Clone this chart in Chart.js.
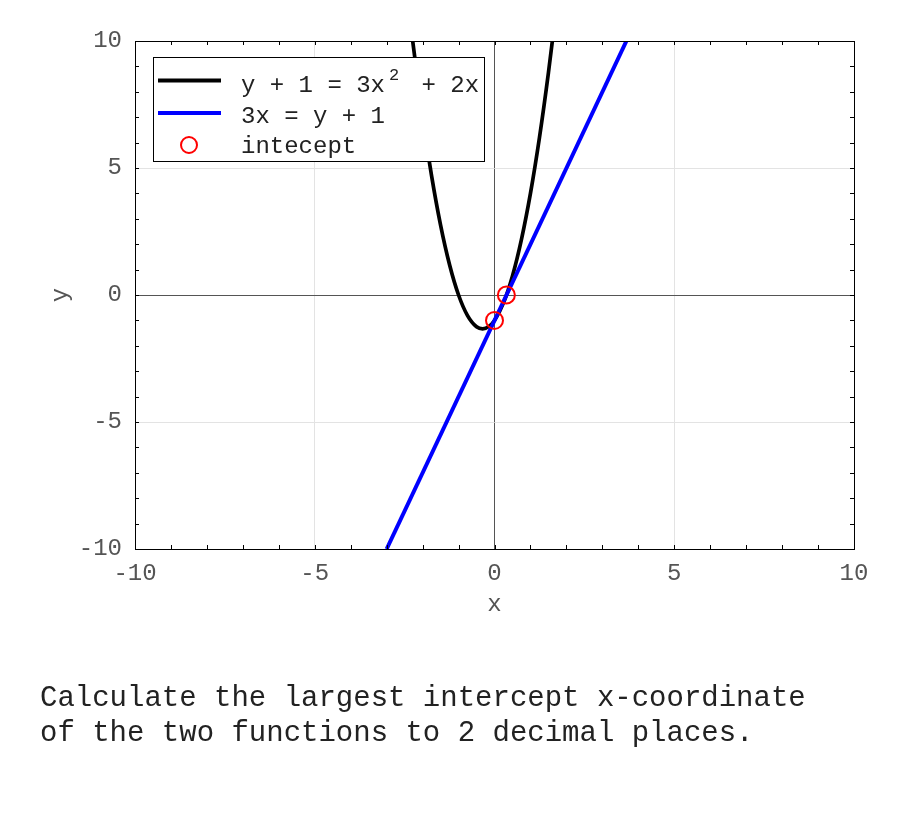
<!DOCTYPE html>
<html><head><meta charset="utf-8">
<script src="https://cdn.jsdelivr.net/npm/chart.js@4/dist/chart.umd.min.js"></script>
<style>
html,body{margin:0;padding:0;background:#fff;}
#wrap{position:relative;width:900px;height:825px;}
#c{position:absolute;left:0;top:0;}
#q{position:absolute;left:40px;top:681px;font-family:'Liberation Mono',monospace;font-size:29px;line-height:35px;color:#222;white-space:pre;}
</style></head><body>
<div id="wrap"><canvas id="c" width="900" height="825"></canvas>
<div id="q">Calculate the largest intercept x-coordinate
of the two functions to 2 decimal places.</div></div>
<script>
// ---- data ----
const curveX = [-2.3, -2.0, -1.75, -1.5, -1.25, -1.0, -0.75, -0.5, -0.33, -0.15, 0.0, 0.25, 0.5, 0.75, 1.0, 1.25, 1.5, 1.65];
const curveY = [10.27, 7.0, 4.69, 2.75, 1.19, 0.0, -0.81, -1.25, -1.33, -1.23, -1.0, -0.31, 0.75, 2.19, 4.0, 6.19, 8.75, 10.47];
const lineX = [-3.0, 3.67];
const lineY = [-10.0, 10.0];
const interceptX = [0.0, 0.33];
const interceptY = [-1.0, 0.0];
const xTickValues = [-10, -5, 0, 5, 10];
const yTickValues = [-10, -5, 0, 5, 10];
const minorTickValues = [-9, -8, -7, -6, -5, -4, -3, -2, -1, 0, 1, 2, 3, 4, 5, 6, 7, 8, 9];
const seriesLabels = ['y + 1 = 3x^2 + 2x', '3x = y + 1', 'intecept'];
const xTitle = 'x';
const yTitle = 'y';

const FONT = "'Liberation Mono', 'DejaVu Sans Mono', monospace";
Chart.defaults.font.family = FONT;

const toPts = (xs, ys) => xs.map((x, i) => ({x: x, y: ys[i]}));

const boxPlugin = {
  id: 'boxPlugin',
  afterDraw(chart) {
    const ctx = chart.ctx, a = chart.chartArea;
    const sx = chart.scales.x, sy = chart.scales.y;
    ctx.save();
    // minor ticks inward on all four sides
    ctx.strokeStyle = '#000';
    ctx.lineWidth = 1;
    ctx.beginPath();
    minorTickValues.forEach(v => {
      const px = Math.round(sx.getPixelForValue(v)) + 0.5;
      ctx.moveTo(px, a.bottom); ctx.lineTo(px, a.bottom - 4);
      ctx.moveTo(px, a.top); ctx.lineTo(px, a.top + 4);
      const py = Math.round(sy.getPixelForValue(v)) + 0.5;
      ctx.moveTo(a.left, py); ctx.lineTo(a.left + 4, py);
      ctx.moveTo(a.right, py); ctx.lineTo(a.right - 4, py);
    });
    ctx.stroke();
    // frame
    ctx.strokeRect(Math.round(a.left) + 0.5, Math.round(a.top) + 0.5, Math.round(a.right - a.left), Math.round(a.bottom - a.top));

    // legend
    const bx = 153.5, by = 57.5, bw = 331, bh = 104;
    ctx.fillStyle = '#fff';
    ctx.fillRect(bx, by, bw, bh);
    ctx.strokeStyle = '#000';
    ctx.lineWidth = 1;
    ctx.strokeRect(bx, by, bw, bh);
    const sampleY = [80.5, 113, 145];
    const textY = [92, 122.5, 152.5];
    const ds = chart.data.datasets;
    ctx.textBaseline = 'alphabetic';
    ctx.textAlign = 'left';
    ds.forEach((d, i) => {
      if (d.showLine) {
        ctx.strokeStyle = d.borderColor;
        ctx.lineWidth = 4;
        ctx.beginPath();
        ctx.moveTo(158, sampleY[i]); ctx.lineTo(221, sampleY[i]);
        ctx.stroke();
      } else {
        ctx.strokeStyle = d.pointBorderColor;
        ctx.lineWidth = 2;
        ctx.beginPath();
        ctx.arc(189, sampleY[i], 8, 0, Math.PI * 2);
        ctx.stroke();
      }
      ctx.fillStyle = '#222';
      const parts = d.label.split(/\^(\S)/);
      let x = 241;
      ctx.font = '24px ' + FONT;
      ctx.fillText(parts[0], x, textY[i]);
      if (parts.length > 1) {
        x += ctx.measureText(parts[0]).width;
        ctx.font = '17px ' + FONT;
        ctx.fillText(parts[1], x + 4, textY[i] - 12.5);
        x += 22;
        ctx.font = '24px ' + FONT;
        ctx.fillText(parts[2], x, textY[i]);
      }
    });
    ctx.restore();
  }
};

const gridColor = ctx => {
  const v = ctx.tick && ctx.tick.value;
  return v === 0 ? '#555' : '#e3e3e3';
};

new Chart(document.getElementById('c'), {
  type: 'scatter',
  data: {
    datasets: [
      {label: seriesLabels[0], data: toPts(curveX, curveY), showLine: true, borderColor: '#000', borderWidth: 3.7,
       pointRadius: 0, cubicInterpolationMode: 'monotone', clip: 0, order: 2},
      {label: seriesLabels[1], data: toPts(lineX, lineY), showLine: true, borderColor: '#0000ff', borderWidth: 4,
       pointRadius: 0, clip: 0, order: 1},
      {label: seriesLabels[2], data: toPts(interceptX, interceptY), showLine: false, pointRadius: 8.5,
       pointBorderColor: '#ff0000', pointBackgroundColor: 'rgba(0,0,0,0)', pointBorderWidth: 2, borderColor: '#ff0000', order: 0}
    ]
  },
  options: {
    responsive: false,
    animation: false,
    devicePixelRatio: 1,
    layout: {padding: {left: 0, top: 41, right: 46, bottom: 206}},
    plugins: {legend: {display: false}, tooltip: {enabled: false}},
    scales: {
      x: {
        type: 'linear', min: -10, max: 10,
        afterBuildTicks: s => { s.ticks = xTickValues.map(v => ({value: v})); },
        afterFit: s => { s.height = 70; },
        ticks: {padding: 10, color: '#555', font: {size: 24}, maxRotation: 0, callback: v => String(v)},
        grid: {color: gridColor, lineWidth: 1, drawTicks: false},
        border: {display: false},
        title: {display: true, text: xTitle, color: '#555', font: {size: 24}, padding: {top: 0, bottom: 0}}
      },
      y: {
        type: 'linear', min: -10, max: 10,
        afterBuildTicks: s => { s.ticks = yTickValues.map(v => ({value: v})); },
        afterFit: s => { s.width = 135; },
        ticks: {padding: 13, color: '#555', font: {size: 24}, callback: v => String(v)},
        grid: {color: gridColor, lineWidth: 1, drawTicks: false},
        border: {display: false},
        title: {display: true, text: yTitle, color: '#555', font: {size: 24}, padding: {top: 46, bottom: 0}}
      }
    }
  },
  plugins: [boxPlugin]
});
</script>
</body></html>
